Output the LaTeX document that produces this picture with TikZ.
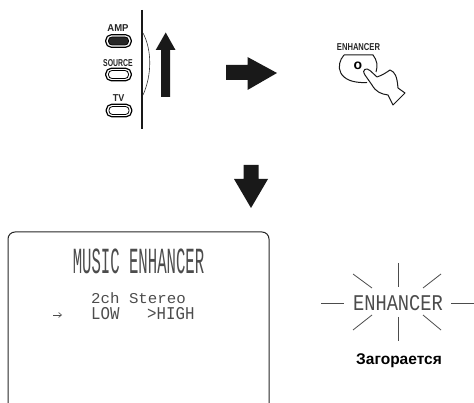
\documentclass[tikz,border=0pt]{standalone}
\usepackage{fontspec}
\usetikzlibrary{arrows.meta}
\setmainfont{Liberation Sans}
\newfontfamily\lcdfont{Liberation Mono}
\tikzset{
 px/.style={x=1pt,y=-1pt},
 bigarrow/.style={fill=black!90,draw=none},
 rbutton/.style={draw=black,line width=1.2pt,rounded corners=5.5pt,minimum width=25.5pt,minimum height=12.5pt,inner sep=0pt},
 rinner/.style={draw=black,line width=.8pt,rounded corners=3.5pt,minimum width=20pt,minimum height=8pt,inner sep=0pt},
 rlabel/.style={inner sep=0pt,text=black!85},
 lcd/.style={inner sep=0pt,text=black!70},
 ray/.style={draw=black!70,line width=0.8pt},
}
\newcommand{\lblfont}{\bfseries\fontsize{10}{10}\selectfont}
\begin{document}
\begin{tikzpicture}[px]
\useasboundingbox (0,0) rectangle (474,403);
% remote
\node[rlabel,font=\lblfont,xscale=.95] (amp) at (118,28) {AMP};
\node[rbutton] (ampb) at (118.5,41) {};
\node[rinner,fill=black!85] (ampi) at (118.5,41) {};
\node[rlabel,font=\lblfont,xscale=.69] (src) at (118,63) {SOURCE};
\node[rbutton] (srcb) at (118.5,74.5) {};
\node[rinner] (srci) at (118.5,74.5) {};
\node[rlabel,font=\lblfont,xscale=.9] (tv) at (118.5,98) {TV};
\node[rbutton] (tvb) at (119,110.5) {};
\node[rinner] (tvi) at (119,110.5) {};
\draw[line width=2pt,black!90] (142,10) -- (142,129);
\draw[line width=.6pt,black!80] (143,33) .. controls (152,50) and (152,75) .. (143,95);
\path[bigarrow] (165.7,32.5) -- (175.5,50) -- (170,50) -- (170,97) -- (161,97) -- (161,50) -- (155.7,50) -- cycle;
% right arrow
\path[bigarrow] (226,65) -- (247.5,65) -- (247.5,57) -- (277,73) -- (247.5,90) -- (247.5,80) -- (226,80) -- cycle;
% button and hand
\node[rlabel,font=\lblfont,xscale=.76] (enh) at (358.5,47.5) {ENHANCER};
\draw[line width=1pt,black!90] (344,55) -- (373,55) .. controls (377,60) and (378,66) .. (376,72);
\draw[line width=1pt,black!90] (344,55) .. controls (335,65) and (337,84) .. (367,82.5);
\node[font=\bfseries\fontsize{14}{14}\selectfont,inner sep=0pt] (o) at (358,66) {o};
\draw[line width=1pt,black!90,line join=round,fill=white]
 (372,85) -- (365,75) .. controls (361,69) and (367,67.5) .. (370,70.5) -- (377,77)
 .. controls (383,75) and (387,72) .. (390,70) .. controls (395,72) and (397,76) .. (398,88)
 -- (405,93) -- (393,105) -- (388,95) .. controls (381,94) and (376,92) .. (372,85) -- cycle;
% down arrow
\path[bigarrow] (243.5,165) -- (258.5,165) -- (258.5,179) -- (268,179) -- (251,208) -- (234,179) -- (243.5,179) -- cycle;
% display
\draw[line width=1pt,black!85,rounded corners=7pt] (8,403.5) -- (8,232) -- (269,232) -- (269,403.5);
\node[lcd,font=\lcdfont\fontsize{11.5}{12}\selectfont,xscale=1.36,yscale=3.2] (title) at (138.5,261.5) {MUSIC ENHANCER};
\node[lcd,font=\lcdfont\fontsize{15}{15}\selectfont,xscale=1.05,anchor=west] (st) at (91,298) {2ch Stereo};
\node[lcd,font=\lcdfont\fontsize{15}{15}\selectfont,xscale=1.05,yscale=1.2,anchor=west] (low) at (91,314) {LOW};
\node[lcd,font=\lcdfont\fontsize{15}{15}\selectfont,xscale=1.05,yscale=1.2,anchor=west] (high) at (147,314) {>HIGH};
\coordinate (a1) at (53,315);
\coordinate (a2) at (62,315);
\draw[black!70,line width=.6pt,-{Straight Barb[length=3pt,width=5pt]}] (a1) -- (a2);
% enhancer glow
\node[lcd,font=\lcdfont\fontsize{14.5}{15}\selectfont,xscale=1.29,yscale=1.55] (glow) at (398,303) {ENHANCER};
\path[ray] (321,303.5) -- (344,303.5);
\path[ray] (451,303.5) -- (474,303.5);
\path[ray] (398.5,263) -- (398.5,287);
\path[ray] (398.5,317) -- (398.5,341);
\path[ray] (353,274) -- (372,288);
\path[ray] (441,274) -- (423,288);
\path[ray] (353,330) -- (372,315);
\path[ray] (441,330) -- (423,315);
\node[font=\bfseries\fontsize{15.5}{16}\selectfont,inner sep=0pt] (lab) at (399,361) {Загорается};
\end{tikzpicture}
\end{document}
